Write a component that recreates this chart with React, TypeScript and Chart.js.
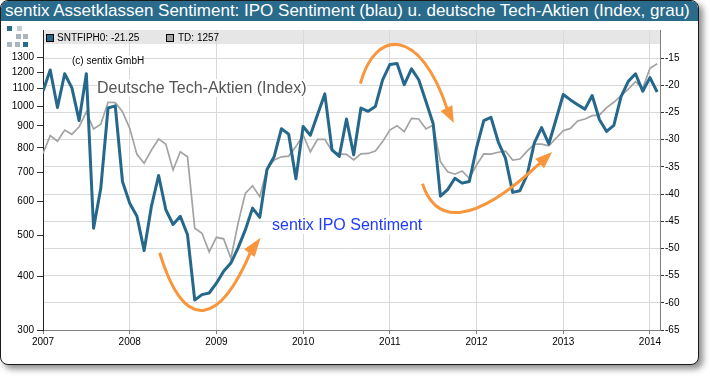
import React, { useEffect, useRef } from 'react';
import { Chart, registerables } from 'chart.js';

Chart.register(...registerables);

const FONT = '"Liberation Sans", Arial, sans-serif';

// x positions: month index from Jan 2007
const startYear = 2007;
const yearTicks = [0, 12, 24, 36, 48, 60, 72, 84];
const leftTicks = [300, 400, 500, 600, 700, 800, 900, 1000, 1100, 1200, 1300];
const rightTicks = [-65, -60, -55, -50, -45, -40, -35, -30, -25, -20, -15];

// sentix IPO Sentiment (right axis), monthly Jan 2007 .. Feb 2014
const ipoSentiment = [
  -21.1, -17.2, -24.1, -17.9, -20.5, -26.5, -17.9, -46.3, -38.9, -24.2, -23.8, -37.7,
  -41.7, -44.1, -50.4, -42.3, -36.6, -42.9, -45.6, -44.1, -47.5, -59.5, -58.5, -58.2,
  -56.4, -54.2, -52.7, -49.9, -46.6, -42.6, -44.3, -35.5, -33.1, -28.0, -29.0, -37.2,
  -27.6, -29.2, -25.4, -21.6, -31.9, -33.1, -26.2, -32.8, -24.2, -24.8, -23.9, -19.0,
  -16.2, -16.0, -19.9, -17.0, -19.0, -23.0, -27.1, -40.4, -39.2, -37.1, -38.0, -37.7,
  -31.5, -26.5, -25.9, -30.4, -33.4, -39.7, -39.4, -36.5, -30.6, -27.8, -30.8, -26.3,
  -21.7, -22.7, -23.6, -24.4, -21.9, -26.3, -28.5, -27.4, -22.1, -19.3, -17.9, -21.1,
  -18.6, -21.25,
];

// German tech stocks index (left log axis)
const techIndex = [
  776, 854, 829, 880, 860, 896, 971, 885, 908, 1022, 1020, 971,
  888, 772, 736, 790, 839, 815, 710, 783, 762, 519, 505, 457,
  494, 490, 441, 533, 626, 652, 615, 714, 749, 762, 765, 805,
  857, 783, 837, 837, 786, 774, 772, 749, 774, 776, 786, 827,
  880, 901, 872, 937, 934, 885, 904, 742, 703, 694, 706, 679,
  729, 774, 773, 781, 786, 749, 753, 786, 816, 816, 808, 842,
  877, 888, 924, 934, 951, 954, 993, 1022, 1059, 1097, 1142, 1102,
  1227, 1257,
];

// orange annotation arrows, in (month index, right-axis value) units
const arrowPaths = [
  { path: [[16.14, -50.79], [19.74, -66.41], [24.72, -63.47], [28.81, -50.42]], tip: [30.12, -48.03] },
  { path: [[43.93, -19.72], [45.91, -9.8], [52.14, -8.88], [56.02, -24.69]], tip: [56.86, -26.95] },
  { path: [[52.52, -38.11], [54.22, -45.09], [59.07, -46.56], [69.04, -34.01]], tip: [70.47, -32.28] },
];

const arrowPlugin = {
  id: 'arrows',
  afterDatasetsDraw(chart: any) {
    const { ctx, scales } = chart;
    const xs = scales.x;
    const ys = scales.y2;
    const P = (p: number[]) => [xs.getPixelForValue(p[0]), ys.getPixelForValue(p[1])];
    ctx.save();
    ctx.strokeStyle = '#f7963c';
    ctx.fillStyle = '#f7963c';
    ctx.lineWidth = 3;
    for (const a of arrowPaths) {
      const pts = a.path.map(P);
      ctx.beginPath();
      ctx.moveTo(pts[0][0], pts[0][1]);
      ctx.bezierCurveTo(pts[1][0], pts[1][1], pts[2][0], pts[2][1], pts[3][0], pts[3][1]);
      ctx.stroke();
      const b = pts[3];
      const t = P(a.tip);
      const dx = t[0] - b[0];
      const dy = t[1] - b[1];
      const len = Math.hypot(dx, dy);
      const nx = -dy / len, ny = dx / len;
      const w = 6.5;
      const bx = b[0] - (dx / len) * 3, by = b[1] - (dy / len) * 3;
      ctx.beginPath();
      ctx.moveTo(t[0], t[1]);
      ctx.lineTo(bx + nx * w, by + ny * w);
      ctx.lineTo(bx - nx * w, by - ny * w);
      ctx.closePath();
      ctx.fill();
    }
    ctx.restore();
  },
};

const tickFont = { family: FONT, size: 10 };

export default function App() {
  const ref = useRef<HTMLCanvasElement>(null);

  useEffect(() => {
    const chart = new Chart(ref.current!, {
      type: 'line',
      data: {
        datasets: [
          {
            label: 'SNTFIPH0',
            data: ipoSentiment.map((v, i) => ({ x: i, y: v })),
            yAxisID: 'y2',
            borderColor: '#25688b',
            borderWidth: 3,
            pointRadius: 0,
            tension: 0,
            borderJoinStyle: 'round',
          },
          {
            label: 'TD',
            data: techIndex.map((v, i) => ({ x: i, y: v })),
            yAxisID: 'y',
            borderColor: '#a3a3a3',
            borderWidth: 1.7,
            pointRadius: 0,
            tension: 0,
          },
        ],
      },
      options: {
        animation: false,
        responsive: false,
        layout: { padding: { top: 30, left: 0, right: 0, bottom: 0 } },
        plugins: { legend: { display: false }, tooltip: { enabled: false } },
        scales: {
          x: {
            type: 'linear',
            min: 0,
            max: 85.39,
            afterBuildTicks: (s: any) => { s.ticks = yearTicks.map((v) => ({ value: v })); },
            afterFit: (s: any) => { s.height = 46; },
            ticks: {
              callback: (v: any) => String(startYear + Math.round(Number(v) / 12)),
              font: tickFont,
              color: '#000',
              maxRotation: 0,
              autoSkip: false,
              padding: 2,
            },
            grid: { color: '#d9d9d9', tickColor: '#808080', tickLength: 4 },
            border: { color: '#808080' },
          },
          y: {
            type: 'logarithmic',
            position: 'left',
            min: 300,
            max: 1508,
            afterBuildTicks: (s: any) => { s.ticks = leftTicks.map((v) => ({ value: v })); },
            afterFit: (s: any) => { s.width = 43; },
            ticks: { callback: (v: any) => String(v), font: tickFont, color: '#000', padding: 3, autoSkip: false },
            grid: { drawOnChartArea: false, tickColor: '#333', tickLength: 6 },
            border: { color: '#222' },
          },
          y2: {
            type: 'linear',
            position: 'right',
            min: -65,
            max: -9.85,
            afterBuildTicks: (s: any) => { s.ticks = rightTicks.map((v) => ({ value: v })); },
            afterFit: (s: any) => { s.width = 50; },
            ticks: { callback: (v: any) => String(v), font: tickFont, color: '#000', padding: 1, autoSkip: false },
            grid: { color: '#d9d9d9', tickColor: '#333', tickLength: 4 },
            border: { color: '#808080' },
          },
        },
      } as any,
      plugins: [arrowPlugin],
    });
    return () => chart.destroy();
  }, []);

  const sq = (left: number, top: number, color: string) => (
    <div style={{ position: 'absolute', left, top, width: 5, height: 5, background: color }} />
  );

  const lastIpo = ipoSentiment[ipoSentiment.length - 1];
  const lastTech = techIndex[techIndex.length - 1];

  return (
    <div style={{ position: 'fixed', left: 0, top: 0, width: 710, height: 376, background: '#fff', overflow: 'hidden', fontFamily: FONT }}>
      <div
        style={{
          position: 'absolute', left: 0, top: 0, width: 699, height: 365, boxSizing: 'border-box',
          border: '1.5px solid #1a1a1a', borderRadius: 8, boxShadow: '4px 4px 6px rgba(0,0,0,0.45)',
          background: '#fff', overflow: 'hidden',
        }}
      >
        <div style={{ height: 20, background: '#2a6b8c', color: '#fff', fontSize: 17, lineHeight: '20px', paddingLeft: 4, whiteSpace: 'nowrap' }}>
          sentix Assetklassen Sentiment: IPO Sentiment (blau) u. deutsche Tech-Aktien (Index, grau)
        </div>
      </div>
      {sq(7, 26, '#2a6b8c')}
      {sq(17, 26, '#c5ced5')}
      {sq(16, 34, '#a9b6bf')}
      {sq(23, 34, '#a9b6bf')}
      {sq(7, 42, '#a9b6bf')}
      {sq(15, 42, '#a9b6bf')}
      {sq(23, 42, '#2a6b8c')}
      <div style={{ position: 'absolute', left: 43, top: 30, width: 617, height: 14, background: '#e6e6e6' }} />
      <canvas ref={ref} width={710} height={376} style={{ position: 'absolute', left: 0, top: 0, width: 710, height: 376 }} />
      <div style={{ position: 'absolute', left: 46, top: 34, width: 6, height: 6, background: '#25688b', border: '1px solid #000' }} />
      <div style={{ position: 'absolute', left: 57, top: 31, fontSize: 10, lineHeight: '14px', color: '#000', whiteSpace: 'nowrap' }}>
        {`SNTFIPH0: ${lastIpo}`}
      </div>
      <div style={{ position: 'absolute', left: 166, top: 34, width: 6, height: 6, background: '#a3a3a3', border: '1px solid #000' }} />
      <div style={{ position: 'absolute', left: 178, top: 31, fontSize: 10, lineHeight: '14px', color: '#000', whiteSpace: 'nowrap' }}>
        {`TD: ${lastTech}`}
      </div>
      <div style={{ position: 'absolute', left: 72, top: 55, fontSize: 10, lineHeight: '12px', color: '#000', background: '#fff', whiteSpace: 'nowrap' }}>
        (c) sentix GmbH
      </div>
      <div style={{ position: 'absolute', left: 97, top: 79, fontSize: 16, lineHeight: '18px', color: '#555', background: '#fff', whiteSpace: 'nowrap' }}>
        Deutsche Tech-Aktien (Index)
      </div>
      <div style={{ position: 'absolute', left: 272, top: 216, fontSize: 16, lineHeight: '18px', color: '#1f3cff', background: '#fff', whiteSpace: 'nowrap' }}>
        sentix IPO Sentiment
      </div>
    </div>
  );
}
